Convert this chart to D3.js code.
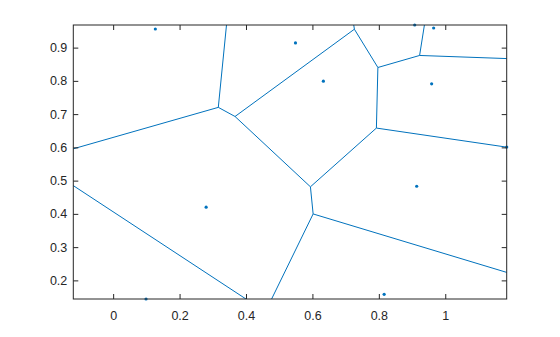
<!DOCTYPE html>
<html>
<head>
<meta charset="utf-8">
<script src="https://cdn.jsdelivr.net/npm/d3@7"></script>
<style>
  body { margin: 0; background: #fff; }
  text { font-family: "Liberation Sans", Arial, Helvetica, sans-serif; }
</style>
</head>
<body>
<script>
const w = 560;
const h = 337;

// voronoi sites
const siteX = [0.127, 0.549, 0.908, 0.965, 0.633, 0.959, 0.280, 0.914, 0.099, 0.816];
const siteY = [0.956, 0.914, 0.968, 0.959, 0.799, 0.791, 0.420, 0.483, 0.144, 0.158];

// stray marker sitting on the right edge (not part of the diagram)
const markX = [1.185];
const markY = [0.601];

const xLimits = [-0.12, 1.185];
const yLimits = [0.144, 0.968];
const xTicks = [0, 0.2, 0.4, 0.6, 0.8, 1];
const yTicks = [0.2, 0.3, 0.4, 0.5, 0.6, 0.7, 0.8, 0.9];

const plotLeft = 73.3, plotRight = 506.7, plotTop = 25, plotBottom = 299;
const blue = "#0072BD";
const axisColor = "#262626";

const svg = d3.select("body")
    .append("svg")
    .attr("width", w)
    .attr("height", h)

const xScale = d3.scaleLinear().domain(xLimits).range([plotLeft, plotRight])
const yScale = d3.scaleLinear().domain(yLimits).range([plotBottom, plotTop])

const sites = siteX.map((x, i) => [x, siteY[i]])
const marks = sites.concat(markX.map((x, i) => [x, markY[i]]))

svg.append("clipPath")
    .attr("id", "plot-clip")
  .append("rect")
    .attr("x", plotLeft)
    .attr("y", plotTop)
    .attr("width", plotRight - plotLeft)
    .attr("height", plotBottom - plotTop)

// voronoi computed in data space, drawn through the scales
const voronoi = d3.Delaunay.from(sites).voronoi([-5, -5, 6, 6])
let pathD = ""
const ctx = {
    moveTo: (x, y) => { pathD += "M" + xScale(x) + "," + yScale(y) },
    lineTo: (x, y) => { pathD += "L" + xScale(x) + "," + yScale(y) },
    closePath: () => { pathD += "Z" }
}
voronoi.render(ctx)

svg.append("path")
    .attr("d", pathD)
    .attr("clip-path", "url(#plot-clip)")
    .style("fill", "none")
    .style("stroke", blue)
    .style("stroke-width", 1)

svg.selectAll(".site")
    .data(marks)
    .enter()
    .append("circle")
      .attr("class", "site")
      .attr("cx", d => xScale(d[0]))
      .attr("cy", d => yScale(d[1]))
      .attr("r", 1.6)
      .style("fill", blue)

const fmt = d3.format("~g")

// Bottom axis
svg.append("g")
    .attr("transform", `translate(0, ${plotBottom})`)
    .call(d3.axisBottom(xScale).tickValues(xTicks).tickFormat(fmt).tickSizeInner(-5).tickSizeOuter(0).tickPadding(12))

// Top axis
svg.append("g")
    .attr("transform", `translate(0, ${plotTop})`)
    .call(d3.axisTop(xScale).tickValues(xTicks).tickFormat("").tickSizeInner(-5).tickSizeOuter(0))

// Left axis
svg.append("g")
    .attr("transform", `translate(${plotLeft}, 0)`)
    .call(d3.axisLeft(yScale).tickValues(yTicks).tickFormat(fmt).tickSizeInner(-5).tickSizeOuter(0).tickPadding(6))

// Right axis
svg.append("g")
    .attr("transform", `translate(${plotRight}, 0)`)
    .call(d3.axisRight(yScale).tickValues(yTicks).tickFormat("").tickSizeInner(-5).tickSizeOuter(0))

svg.selectAll(".domain").remove()
svg.selectAll(".tick line").style("stroke", axisColor)
svg.selectAll(".tick text")
    .style("fill", axisColor)
    .style("font-size", "12.5px")
    .style("font-family", "'Liberation Sans', Arial, Helvetica, sans-serif")

// Box
svg.append("rect")
    .attr("x", plotLeft)
    .attr("y", plotTop)
    .attr("width", plotRight - plotLeft)
    .attr("height", plotBottom - plotTop)
    .style("fill", "none")
    .style("stroke", axisColor)
    .style("stroke-width", 1)
</script>
</body>
</html>
